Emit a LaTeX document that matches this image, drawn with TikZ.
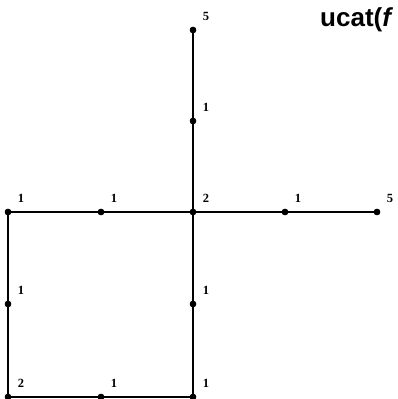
\documentclass[tikz,border=0pt]{standalone}
\usepackage{fontspec}
\setmainfont{Liberation Serif}
\newfontfamily\helv{Liberation Sans}
\begin{document}
\begin{tikzpicture}[x=1pt,y=1pt,
  vtx/.style={circle,fill=black,inner sep=0pt,minimum size=6.5pt},
  lbl/.style={font=\fontsize{12.5}{12.5}\selectfont\bfseries,inner sep=0pt,xshift=13pt,yshift=14pt},
  edge/.style={line width=1.5pt}]
\useasboundingbox (0,0) rectangle (397,399);
% vertices (y = 399 - pixel row)
\node[vtx] (t)  at (193,369) {};
\node[vtx] (m)  at (193,278) {};
\node[vtx] (c)  at (193,187) {};
\node[vtx] (l2) at (101,187) {};
\node[vtx] (l1) at (8,187) {};
\node[vtx] (r1) at (285,187) {};
\node[vtx] (r2) at (377,187) {};
\node[vtx] (lm) at (8,95) {};
\node[vtx] (cm) at (193,95) {};
\node[vtx] (bl) at (8,2) {};
\node[vtx] (bm) at (101,2) {};
\node[vtx] (br) at (193,2) {};
% edges
\draw[edge] (t.center) -- (m.center) -- (c.center);
\draw[edge] (c.center) -- (r1.center) -- (r2.center);
\draw[edge] (c.center) -- (l2.center) -- (l1.center) -- (lm.center) -- (bl.center) -- (bm.center) -- (br.center) -- (cm.center) -- (c.center);
% dots on top
\foreach \v in {t,m,c,l2,l1,r1,r2,lm,cm,bl,bm,br}
  \fill (\v.center) circle (3.2pt);
% labels
\node[lbl] (lt)  at (t)  {5};
\node[lbl] (lm1) at (m)  {1};
\node[lbl] (lc)  at (c)  {2};
\node[lbl] (ll2) at (l2) {1};
\node[lbl] (ll1) at (l1) {1};
\node[lbl] (lr1) at (r1) {1};
\node[lbl] (lr2) at (r2) {5};
\node[lbl] (llm) at (lm) {1};
\node[lbl] (lcm) at (cm) {1};
\node[lbl] (lbl1) at (bl) {2};
\node[lbl] (lbm) at (bm) {1};
\node[lbl] (lbr) at (br) {1};
% title
\node[anchor=base west,inner sep=0pt,font=\helv\fontsize{26}{26}\selectfont\bfseries] (title) at (320,372) {ucat(\textit{f}};
\end{tikzpicture}
\end{document}
